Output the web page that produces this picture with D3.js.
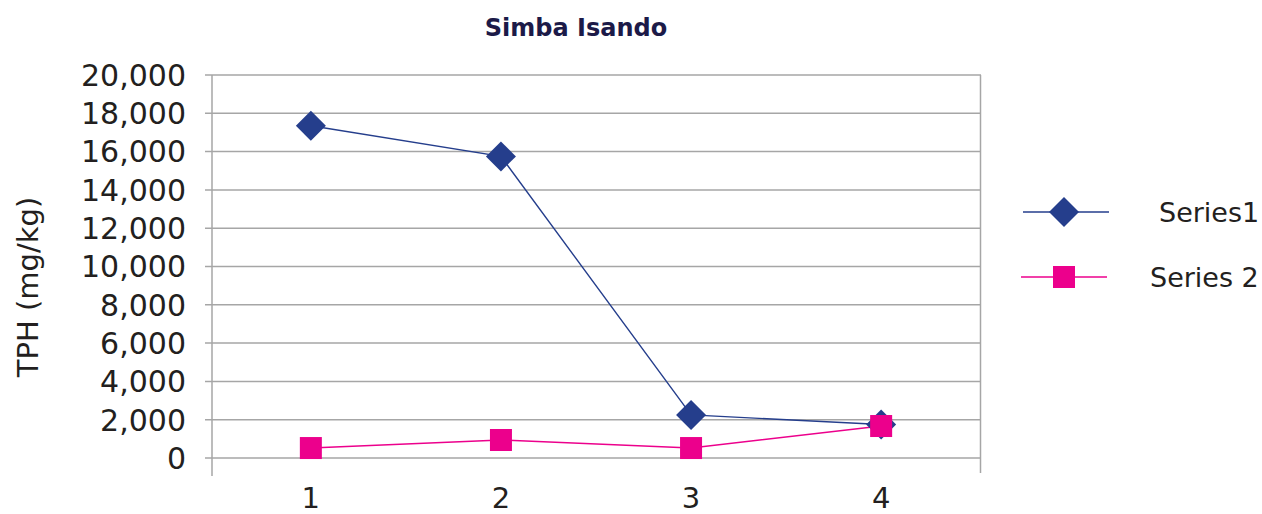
<!DOCTYPE html>
<html>
<head>
<meta charset="utf-8">
<script src="https://cdn.jsdelivr.net/npm/d3@7"></script>
<style>
  body { margin: 0; background: #fff; }
  text { font-family: "DejaVu Sans", sans-serif; }
</style>
</head>
<body>
<div id="chart"></div>
<script>
const categories = ["1", "2", "3", "4"];
const series1 = [17350, 15750, 2250, 1750];
const series2 = [520, 940, 520, 1670];
const yTicks = [0, 2000, 4000, 6000, 8000, 10000, 12000, 14000, 16000, 18000, 20000];
const seriesNames = ["Series1", "Series 2"];

const svg = d3.select("#chart")
    .append("svg")
    .attr("width", 1262)
    .attr("height", 514);

const x = d3.scalePoint()
    .domain(categories)
    .range([212, 980])
    .padding(0.52);

const y = d3.scaleLinear()
    .domain([0, 20000])
    .range([458, 75]);

// gridlines + left ticks
svg.selectAll(".grid")
    .data(yTicks)
    .enter()
    .append("line")
    .attr("x1", 205)
    .attr("x2", 981)
    .attr("y1", d => y(d))
    .attr("y2", d => y(d))
    .style("stroke", "#a6a6a6")
    .style("stroke-width", 1.5);

// left axis line and right frame line
svg.append("line")
    .attr("x1", 212).attr("x2", 212)
    .attr("y1", 75).attr("y2", 476)
    .style("stroke", "#a6a6a6").style("stroke-width", 1.5);
svg.append("line")
    .attr("x1", 980.5).attr("x2", 980.5)
    .attr("y1", 75).attr("y2", 473)
    .style("stroke", "#a6a6a6").style("stroke-width", 1.5);

// y tick labels
svg.selectAll(".ylab")
    .data(yTicks)
    .enter()
    .append("text")
    .attr("x", 186)
    .attr("y", d => y(d))
    .attr("dy", "0.36em")
    .style("text-anchor", "end")
    .style("font-size", "30px")
    .style("fill", "#231f20")
    .text(d => d3.format(",")(d));

// x labels
svg.selectAll(".xlab")
    .data(categories)
    .enter()
    .append("text")
    .attr("x", d => x(d))
    .attr("y", 508)
    .style("text-anchor", "middle")
    .style("font-size", "29px")
    .style("fill", "#231f20")
    .text(d => d);

// axis title
svg.append("text")
    .attr("transform", "translate(38,287) rotate(-90)")
    .style("text-anchor", "middle")
    .style("font-size", "29px")
    .style("fill", "#231f20")
    .text("TPH (mg/kg)");

// chart title
svg.append("text")
    .attr("x", 576)
    .attr("y", 36)
    .style("text-anchor", "middle")
    .style("font-size", "24px")
    .style("font-weight", "bold")
    .style("fill", "#1c1a48")
    .text("Simba Isando");

const blue = "#253e8c";
const pink = "#ec008c";

const line = d3.line()
    .x((d, i) => x(categories[i]))
    .y(d => y(d));

svg.append("path")
    .datum(series1)
    .attr("d", line)
    .style("fill", "none")
    .style("stroke", blue)
    .style("stroke-width", 1.4);

svg.append("path")
    .datum(series2)
    .attr("d", line)
    .style("fill", "none")
    .style("stroke", pink)
    .style("stroke-width", 1.5);

const diamond = d3.symbol().type(d3.symbolSquare).size(450);

svg.selectAll(".dia")
    .data(series1)
    .enter()
    .append("path")
    .attr("d", diamond)
    .attr("transform", (d, i) => "translate(" + x(categories[i]) + "," + y(d) + ") rotate(45)")
    .style("fill", blue);

svg.selectAll(".sq")
    .data(series2)
    .enter()
    .append("rect")
    .attr("x", (d, i) => x(categories[i]) - 11)
    .attr("y", d => y(d) - 11)
    .attr("width", 22)
    .attr("height", 22)
    .style("fill", pink);

// legend
const legendY = [212, 277];
const legendX = [1159, 1150];

svg.append("line")
    .attr("x1", 1023).attr("x2", 1109)
    .attr("y1", legendY[0]).attr("y2", legendY[0])
    .style("stroke", blue).style("stroke-width", 1.4);
svg.append("path")
    .attr("d", diamond)
    .attr("transform", "translate(1064," + legendY[0] + ") rotate(45)")
    .style("fill", blue);

svg.append("line")
    .attr("x1", 1021).attr("x2", 1107)
    .attr("y1", legendY[1]).attr("y2", legendY[1])
    .style("stroke", pink).style("stroke-width", 1.5);
svg.append("rect")
    .attr("x", 1053).attr("y", legendY[1] - 11)
    .attr("width", 22).attr("height", 22)
    .style("fill", pink);

svg.selectAll(".leg")
    .data(seriesNames)
    .enter()
    .append("text")
    .attr("x", (d, i) => legendX[i])
    .attr("y", (d, i) => legendY[i])
    .attr("dy", "0.36em")
    .style("font-size", "27px")
    .style("fill", "#231f20")
    .text(d => d);
</script>
</body>
</html>
